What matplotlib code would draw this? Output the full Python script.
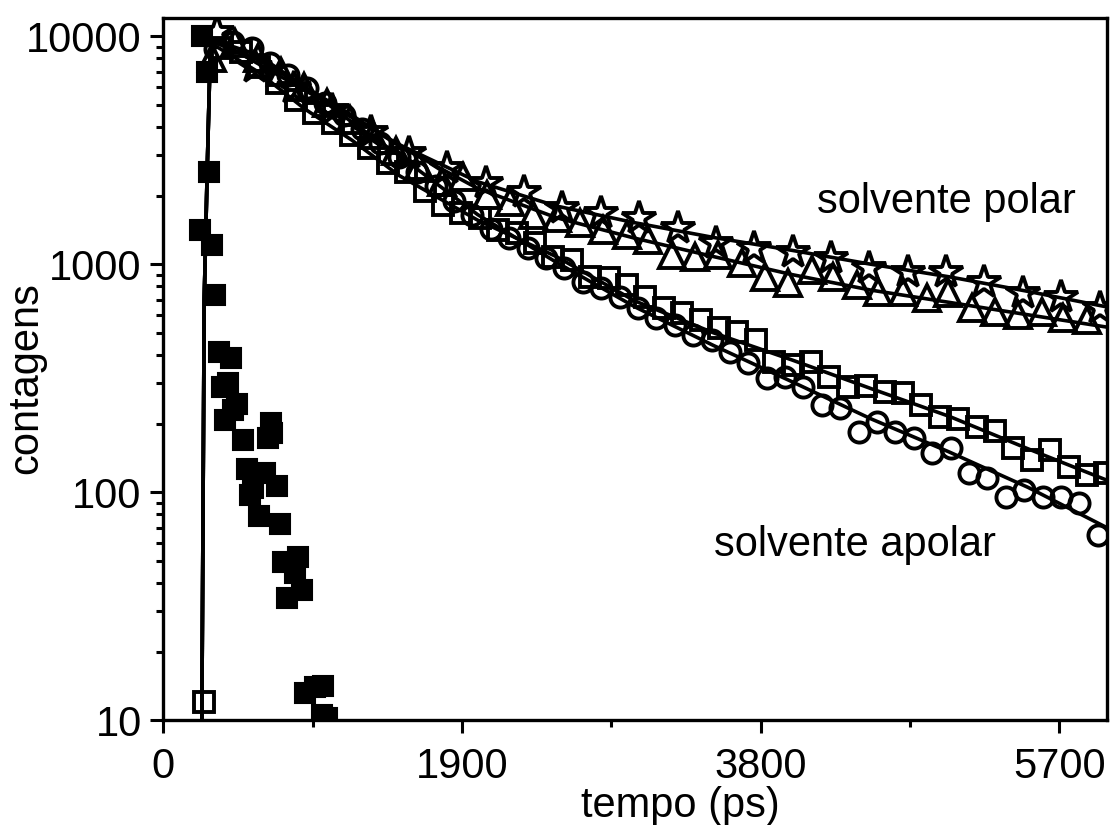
import matplotlib
matplotlib.use("Agg")
import matplotlib.pyplot as plt
from matplotlib.ticker import FixedLocator, LogLocator, NullFormatter

plt.rcParams["font.family"] = ["Liberation Sans", "DejaVu Sans"]

# IRF (filled squares)
irf_t = [248, 280, 292, 235, 311, 330, 356, 432, 375, 413, 470, 445, 394, 508,
         686, 693, 667, 534, 648, 572, 553, 725, 610, 744, 858, 763, 839, 883,
         788, 966, 903, 1017, 1011, 1045]
irf_y = [10000, 6950, 2530, 1410, 1210, 730, 411, 387, 289, 301, 243, 229, 207, 169,
         201, 181, 173, 126, 121, 104, 97, 107, 78.5, 72.4, 51.9, 49.3, 44.2, 37.2,
         34.3, 14.0, 13.1, 14.1, 10.5, 10.2]

# solvente polar: stars
star_t = [343, 587, 831, 1075, 1319, 1563, 1807, 2051, 2295, 2539, 2783, 3027,
          3271, 3515, 3759, 4003, 4247, 4491, 4735, 4979, 5223, 5467, 5711, 5955]
star_y = [10400, 7310, 5920, 4730, 3790, 3070, 2640, 2265, 2070, 1760, 1670, 1590,
          1440, 1240, 1175, 1130, 1060, 960, 920, 920, 835, 745, 715, 640]

# solvente polar: triangles
tri_t = [309, 455, 602, 748, 895, 1041, 1187, 1334, 1480, 1627, 1773, 1907, 2059,
         2205, 2352, 2504, 2650, 2797, 2949, 3083, 3235, 3381, 3528, 3680, 3826,
         3973, 4125, 4258, 4411, 4545, 4704, 4856, 4990, 5142, 5288, 5434, 5587,
         5720, 5873]
tri_y = [8000, 9300, 8000, 7000, 6000, 5100, 4300, 3700, 3150, 2700, 2290, 2408, 2008,
         1871, 1641, 1592, 1514, 1409, 1340, 1274, 1094, 1074, 1094, 1010, 877,
         826, 942, 877, 809, 754, 754, 710, 746, 641, 615, 597, 615,
         580, 568]

# solvente apolar: open squares
sq_t = [259, 376, 493, 610, 727, 844, 961, 1078, 1195, 1312, 1429, 1546, 1663,
        1780, 1897, 2014, 2131, 2248, 2365, 2482, 2599, 2716, 2833, 2950, 3067,
        3184, 3301, 3418, 3535, 3652, 3769, 3886, 4003, 4120, 4237, 4354, 4471,
        4588, 4705, 4822, 4939, 5056, 5173, 5290, 5407, 5524, 5641, 5758, 5875, 5992]
sq_y = [12, 8900, 8500, 7300, 6220, 5240, 4600, 4160, 3680, 3230, 2770, 2530, 2100,
        1815, 1674, 1592, 1409, 1368, 1236, 1074, 1042, 877, 868, 809, 720,
        641, 610, 568, 524, 504, 464, 372, 361, 372, 319, 289, 292,
        275, 272, 241, 213, 209, 193, 185, 157, 138, 153, 129, 119, 121]

# solvente apolar: circles
circ_t = [328, 445, 562, 679, 796, 913, 1030, 1147, 1264, 1381, 1498, 1615, 1732,
          1849, 1966, 2083, 2200, 2317, 2434, 2551, 2668, 2785, 2902, 3019, 3136,
          3253, 3370, 3487, 3604, 3721, 3838, 3955, 4072, 4189, 4306, 4423, 4540,
          4657, 4774, 4891, 5008, 5125, 5242, 5359, 5476, 5593, 5710, 5827, 5944]
circ_y = [8800, 9400, 8860, 7600, 6750, 5900, 5080, 4500, 3900, 3400, 2950, 2550, 2200,
          1900, 1650, 1420, 1300, 1175, 1062, 960, 834, 785, 717, 641, 580,
          540, 489, 464, 411, 368, 316, 319, 289, 241, 234, 183, 203,
          183, 173, 148, 156, 122, 115, 95, 102, 95, 95, 90, 65]

# fitted curves
fit_t = [246, 261, 280, 299, 340, 600, 900, 1200, 1500, 2000, 2500, 3000, 3500,
         4000, 4500, 5000, 5500, 6000]
fit_star = [10, 695, 2580, 8420, 9600, 7600, 5800, 4400, 3350, 2300, 1800, 1520, 1310,
            1150, 1000, 880, 760, 650]
fit_tri = [10, 695, 2580, 8420, 9300, 7900, 6000, 4500, 3300, 2150, 1600, 1300, 1080,
           900, 770, 680, 600, 530]
fit_sq = [10, 695, 2580, 8420, 9000, 7000, 4800, 3500, 2450, 1560, 1080, 690, 500,
          380, 285, 215, 155, 113]
fit_circ = [10, 695, 2580, 8420, 9500, 8300, 6000, 4200, 3000, 1650, 1020, 650, 440,
            305, 210, 150, 105, 70]

fig = plt.figure(figsize=(11.1, 8.25), dpi=100)
ax = fig.add_axes([0.147, 0.127, 0.85, 0.851])

mk = dict(linestyle="none", markerfacecolor="none", markeredgecolor="black",
          markeredgewidth=2.8)
ax.plot(sq_t, sq_y, marker="s", markersize=14.5, **mk)
ax.plot(circ_t, circ_y, marker="o", markersize=14.5, **mk)
ax.plot(tri_t, tri_y, marker="^", markersize=18.5, **mk)
ax.plot(star_t, star_y, marker="*", markersize=25, **mk)
ax.plot(irf_t, irf_y, linestyle="none", marker="s", markersize=14.5,
        color="black", markeredgewidth=1.5)

for fy in (fit_star, fit_tri, fit_sq, fit_circ):
    ax.plot(fit_t, fy, color="black", linewidth=2.6)

ax.set_yscale("log")
ax.set_xlim(0, 6000)
ax.set_ylim(10, 12000)
ax.xaxis.set_major_locator(FixedLocator([0, 1900, 3800, 5700]))
ax.xaxis.set_minor_locator(FixedLocator([950, 2850, 4750]))
ax.yaxis.set_major_locator(FixedLocator([10, 100, 1000, 10000]))
ax.yaxis.set_minor_locator(LogLocator(base=10, subs=range(2, 10)))
ax.yaxis.set_minor_formatter(NullFormatter())
ax.set_yticklabels(["10", "100", "1000", "10000"])

ax.tick_params(which="major", direction="out", length=9.5, width=2.2,
               labelsize=30, pad=6)
ax.tick_params(axis="x", which="major", pad=10)
ax.tick_params(which="minor", direction="out", length=5, width=2.2)
for s in ax.spines.values():
    s.set_linewidth(2.4)

ax.set_xlabel("tempo (ps)", fontsize=30)
ax.xaxis.set_label_coords(0.548, -0.094)
ax.set_ylabel("contagens", fontsize=30)
ax.yaxis.set_label_coords(-0.124, 0.487)

ax.text(4983, 1871, "solvente polar", fontsize=30, ha="center", va="center")
ax.text(4398, 58.6, "solvente apolar", fontsize=30, ha="center", va="center")

fig.savefig("out.png", dpi=100)
